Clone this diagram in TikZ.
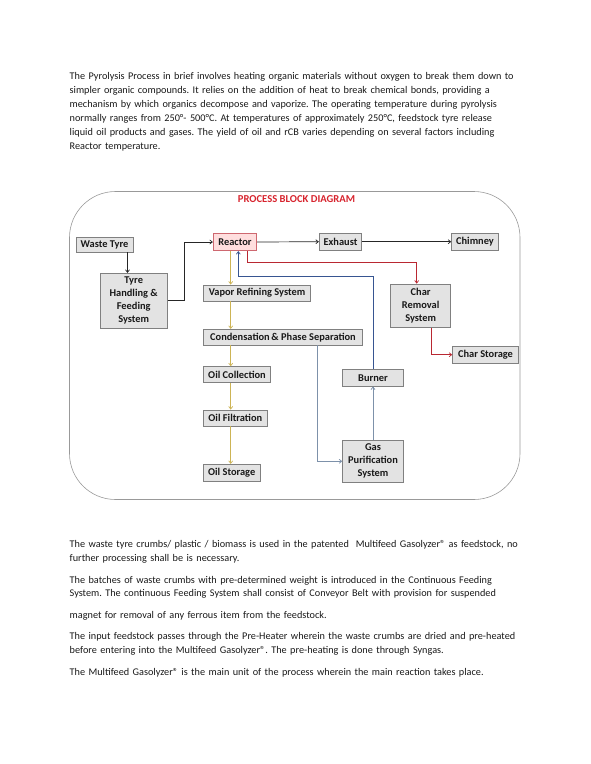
\documentclass[tikz,border=0pt]{standalone}
\usepackage{fontspec}
\setmainfont{Carlito}
\usepackage{tikz}
\usetikzlibrary{calc,positioning,arrows.meta,fit,shapes}
\frenchspacing

\definecolor{oilline}{RGB}{205,180,85}
\definecolor{charline}{RGB}{185,40,50}
\definecolor{burnline}{RGB}{55,85,145}
\definecolor{gasline}{RGB}{125,145,170}
\definecolor{titlered}{RGB}{215,35,45}

\begin{document}
\begin{tikzpicture}[x=1pt,y=-1pt,
  blk/.style={draw=black!50,fill=black!11,line width=0.8pt,inner sep=0pt,align=center,
    font=\fontsize{10.4}{13}\selectfont\bfseries,text=black!90},
  para/.style={anchor=base west,inner sep=0pt,text width=500pt,align=left,
    font=\fontsize{10.25}{13.9}\selectfont,text=black!90},
  arr/.style={-{Straight Barb[length=2.6pt,width=4pt]},line width=0.7pt},
  every fit/.style={rounded corners=46pt,draw=black!40,line width=0.6pt,inner sep=0pt}]
  \useasboundingbox (0,0) rectangle (590,764);

  % text above
  \node[para] (intro) at (69.5,79.5) {The Pyrolysis Process in brief involves heating organic materials without oxygen to break them down to\\
    simpler organic compounds. It relies on the addition of heat to break chemical bonds, providing a\\
    mechanism by which organics decompose and vaporize. The operating temperature during pyrolysis\\
    normally ranges from 250°- 500°C. At temperatures of approximately 250°C, feedstock tyre release\\
    liquid oil products and gases. The yield of oil and rCB varies depending on several factors including\\
    Reactor temperature.};

  % frame
  \coordinate (fr1) at (69.5,191.5);
  \coordinate (fr2) at (520,499.5);
  \node[fit=(fr1) (fr2)] (frame) {};
  \node[font=\fontsize{10.6}{12}\selectfont\bfseries,text=titlered] (title) at (296.5,199.3) {PROCESS BLOCK DIAGRAM};

  % blocks
  \node[blk,minimum width=57pt,minimum height=15pt] (wt) at (104.5,244.5) {Waste Tyre};
  \node[blk,minimum width=67pt,minimum height=55pt] (th) at (133.7,300.8) {Tyre\\Handling \&\\Feeding\\System};
  \node[blk,draw=charline!70,fill=red!13,minimum width=43.4pt,minimum height=17.4pt] (re) at (235,242) {Reactor};
  \node[blk,minimum width=42.4pt,minimum height=16.7pt] (ex) at (340.5,241.7) {Exhaust};
  \node[blk,minimum width=46.6pt,minimum height=16.7pt] (ch) at (475,241.7) {Chimney};
  \node[blk,minimum width=107.4pt,minimum height=16pt] (vr) at (257,293) {Vapor Refining System};
  \node[blk,minimum width=159.4pt,minimum height=15.7pt] (cd) at (283,337.2) {Condensation\,\&\ Phase Separation};
  \node[blk,minimum width=67.4pt,minimum height=16pt] (oc) at (237,374.7) {Oil Collection};
  \node[blk,minimum width=64pt,minimum height=16pt] (of) at (235.3,418) {Oil Filtration};
  \node[blk,minimum width=56.7pt,minimum height=16.7pt] (os) at (231.7,472.7) {Oil Storage};
  \node[blk,minimum width=60.6pt,minimum height=16.7pt] (bu) at (373,377.7) {Burner};
  \node[blk,minimum width=60.6pt,minimum height=42.7pt] (gp) at (373,461.3) {Gas\\Purification\\System};
  \node[blk,minimum width=60pt,minimum height=43.3pt] (cr) at (420.7,305.7) {Char\\Removal\\System};
  \node[blk,minimum width=65.6pt,minimum height=17.3pt] (cs) at (485.5,354.7) {Char Storage};

  \coordinate (oilx) at (230.7,0);
  \coordinate (redx) at (247.3,262.7);
  \coordinate (bluey) at (0,276.7);
  \coordinate (gasx) at (317.3,0);

  % connectors
  \draw[arr,black!85] ([xshift=23pt]wt.south) -- ([xshift=23pt]wt.south |- th.north);
  \draw[arr,black!85] (th.east) -- ++(16.3,0) |- (re.west);
  \draw[arr,black!85] (re.east) -- (ex.west);
  \draw[arr,black!85] (ex.east) -- (ch.west);
  \draw[arr,oilline] (re.south -| oilx) -- (vr.north -| oilx);
  \draw[arr,oilline] (vr.south -| oilx) -- (cd.north -| oilx);
  \draw[arr,oilline] (cd.south -| oilx) -- (oc.north -| oilx);
  \draw[arr,oilline] (oc.south -| oilx) -- (of.north -| oilx);
  \draw[arr,oilline] (of.south -| oilx) -- (os.north -| oilx);
  \draw[arr,charline] (re.south -| redx) -- (redx) -| ([xshift=-4pt]cr.north);
  \draw[arr,charline] ([xshift=11pt]cr.south) |- (cs.west);
  \draw[arr,gasline] (cd.south -| gasx) |- (gp.west);
  \draw[arr,gasline] (gp.north) -- (bu.south);
  \draw[arr,burnline] (bu.north) |- ([xshift=3.3pt]re.south |- bluey) -- ([xshift=3.3pt]re.south);

  % text below
  \node[para] (p1) at (69.5,547.5) {The waste tyre crumbs/ plastic / biomass is used in the patented\ \ Multifeed Gasolyzer® as feedstock, no\\
    further processing shall be is necessary.};
  \node[para] (p2) at (69.5,583) {The batches of waste crumbs with pre-determined weight is introduced in the Continuous Feeding\\
    System. The continuous Feeding System shall consist of Conveyor Belt with provision for suspended};
  \node[para] (p3) at (69.5,618) {magnet for removal of any ferrous item from the feedstock.};
  \node[para] (p4) at (69.5,639.5) {The input feedstock passes through the Pre-Heater wherein the waste crumbs are dried and pre-heated\\
    before entering into the Multifeed Gasolyzer®. The pre-heating is done through Syngas.};
  \node[para] (p5) at (69.5,675.3) {The Multifeed Gasolyzer® is the main unit of the process wherein the main reaction takes place.};
\end{tikzpicture}
\end{document}
